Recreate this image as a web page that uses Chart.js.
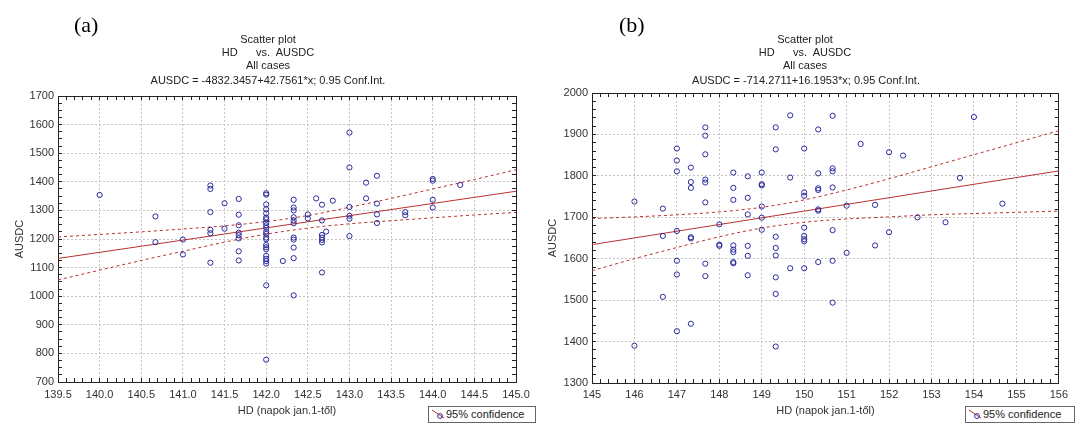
<!DOCTYPE html>
<html><head><meta charset="utf-8">
<script src="https://cdn.jsdelivr.net/npm/chart.js@4.4.1/dist/chart.umd.min.js"></script>
<style>
html,body{margin:0;padding:0;background:#fff;}
#wrap{position:relative;width:1077px;height:424px;overflow:hidden;font-family:"Liberation Sans",Arial,sans-serif;color:#222;}
canvas{position:absolute;top:0;}
.panel{position:absolute;font-family:"Liberation Serif","Times New Roman",serif;font-size:22px;line-height:24px;color:#000;}
.ttl{position:absolute;width:400px;text-align:center;font-size:11px;line-height:13px;white-space:pre;color:#222;}
.leg{position:absolute;box-sizing:border-box;height:17px;border:1px solid #666;background:#fff;font-size:11px;line-height:15px;color:#222;white-space:nowrap;}
.leg svg{position:absolute;left:2px;top:1px;}
.leg span{position:absolute;left:17px;top:0;}
</style></head>
<body>
<div id="wrap">
  <canvas id="ca" width="540" height="424" style="left:0;width:540px;height:424px"></canvas>
  <canvas id="cb" width="540" height="424" style="left:537px;width:540px;height:424px"></canvas>

  <div class="panel" style="left:74px;top:13px">(a)</div>
  <div class="ttl" style="left:68px;top:33px">Scatter plot</div>
  <div class="ttl" style="left:68px;top:46px">HD      vs.  AUSDC</div>
  <div class="ttl" style="left:68px;top:59px">All cases</div>
  <div class="ttl" style="left:68px;top:74px">AUSDC = -4832.3457+42.7561*x; 0.95 Conf.Int.</div>

  <div class="panel" style="left:619px;top:13px">(b)</div>
  <div class="ttl" style="left:605px;top:33px">Scatter plot</div>
  <div class="ttl" style="left:605px;top:46px">HD      vs.  AUSDC</div>
  <div class="ttl" style="left:605px;top:59px">All cases</div>
  <div class="ttl" style="left:606px;top:74px">AUSDC = -714.2711+16.1953*x; 0.95 Conf.Int.</div>

  <div class="leg" style="left:428px;top:406px;width:108px">
    <svg width="16" height="14"><line x1="1" y1="2" x2="13" y2="10" stroke="#b8312f" stroke-width="1"/><circle cx="9" cy="8" r="2.4" fill="none" stroke="#2a2a9c" stroke-width="1"/></svg>
    <span>95% confidence</span>
  </div>
  <div class="leg" style="left:965px;top:406px;width:110px">
    <svg width="16" height="14"><line x1="1" y1="2" x2="13" y2="10" stroke="#b8312f" stroke-width="1"/><circle cx="9" cy="8" r="2.4" fill="none" stroke="#2a2a9c" stroke-width="1"/></svg>
    <span>95% confidence</span>
  </div>
</div>
<script>
// ---------- Panel (a) data ----------
const aHD = [
  140.00,
  140.67,140.67,
  141.00,141.00,
  141.33,141.33,141.33,141.33,141.33,141.33,
  141.50,141.50,
  141.67,141.67,141.67,141.67,141.67,141.67,141.67,141.67,
  142.00,142.00,142.00,142.00,142.00,142.00,142.00,142.00,142.00,142.00,142.00,142.00,
  142.00,142.00,142.00,142.00,142.00,142.00,142.00,142.00,142.00,142.00,142.00,
  142.20,
  142.33,142.33,142.33,142.33,142.33,142.33,142.33,142.33,142.33,142.33,142.33,
  142.50,142.50,
  142.60,
  142.67,142.67,142.67,142.67,142.67,142.67,142.67,
  142.72,
  142.80,
  143.00,143.00,143.00,143.00,143.00,143.00,
  143.20,143.20,
  143.33,143.33,143.33,143.33,
  143.67,143.67,
  144.00,144.00,144.00,144.00,
  144.33
];
const aAUSDC = [
  1354,
  1279,1189,
  1198,1146,
  1387,1375,1294,1232,1220,1117,
  1325,1236,
  1340,1285,1248,1222,1213,1202,1157,1125,
  1360,1355,1321,1304,1290,1275,1269,1257,1248,1239,1226,1218,
  1205,1199,1179,1171,1164,1141,1131,1123,1114,1038,778,
  1123,
  1337,1310,1300,1276,1265,1255,1205,1198,1170,1133,1003,
  1286,1272,
  1342,
  1320,1265,1214,1205,1197,1188,1083,
  1226,
  1334,
  1572,1450,1312,1281,1271,1210,
  1397,1342,
  1421,1324,1286,1256,
  1294,1283,
  1410,1404,1337,1310,
  1389
];
const aFitX = [139.5, 145.0];
const aFitY = [1132, 1367];
const aBandX = [139.5,140,140.5,141,141.5,142,142.5,143,143.5,144,144.5,145];
const aUpper = [1207,1216,1225,1235,1246,1261,1282,1311,1342,1375,1408,1442];
const aLower = [1057,1091,1125,1157,1189,1217,1238,1253,1264,1274,1284,1293];

// ---------- Panel (b) data ----------
const bHD = [
  146.00,146.00,
  146.67,146.67,146.67,
  147.00,147.00,147.00,147.00,147.00,147.00,147.00,
  147.33,147.33,147.33,147.33,147.33,147.33,
  147.67,147.67,147.67,147.67,147.67,147.67,147.67,147.67,
  148.00,148.00,148.00,
  148.33,148.33,148.33,148.33,148.33,148.33,148.33,148.33,
  148.67,148.67,148.67,148.67,148.67,148.67,
  149.00,149.00,149.00,149.00,149.00,149.00,
  149.33,149.33,149.33,149.33,149.33,149.33,149.33,149.33,
  149.67,149.67,149.67,
  150.00,150.00,150.00,150.00,150.00,150.00,150.00,150.00,
  150.33,150.33,150.33,150.33,150.33,150.33,150.33,
  150.67,150.67,150.67,150.67,150.67,150.67,150.67,
  151.00,151.00,
  151.33,
  151.67,151.67,
  152.00,152.00,
  152.33,
  152.67,
  153.33,
  153.67,
  154.00,
  154.67
];
const bAUSDC = [
  1738,1390,
  1721,1655,1508,
  1866,1837,1811,1667,1595,1562,1425,
  1820,1785,1771,1652,1649,1443,
  1917,1897,1852,1791,1784,1736,1588,1558,
  1683,1634,1631,
  1808,1771,1742,1632,1622,1616,1592,1589,
  1799,1747,1707,1631,1607,1560,
  1808,1780,1777,1726,1699,1670,
  1917,1864,1653,1626,1608,1555,1515,1388,
  1946,1796,1577,
  1866,1760,1752,1675,1655,1647,1642,1577,
  1912,1806,1770,1766,1719,1716,1592,
  1945,1818,1811,1772,1669,1595,1494,
  1728,1614,
  1877,
  1730,1632,
  1857,1664,
  1849,
  1700,
  1688,
  1795,
  1942,
  1733
];
const bFitX = [145, 156];
const bFitY = [1634, 1812];
const bBandX = [145,146,147,148,149,150,151,152,153,154,155,156];
const bUpper = [1697,1701,1706,1713,1724,1742,1766,1793,1822,1851,1880,1909];
const bLower = [1571,1600,1627,1653,1674,1688,1696,1701,1706,1709,1712,1715];

const xTitle = 'HD (napok jan.1-től)';
const yTitle = 'AUSDC';
const legendText = '95% confidence';

// ---------- helpers ----------
const zip = (xs, ys) => xs.map((x, i) => ({x: x, y: ys[i]}));
const FONT = {family: '"Liberation Sans", Arial, sans-serif', size: 11};
const GRID = '#c4c4c4';
const FRAME = '#222';
const PT = '#2a2a9c';
const LN = '#b8312f';

function build(id, P) {
  const maj = (v, min, step) => { const r = (v - min) / step; return Math.abs(r - Math.round(r)) < 1e-6; };
  const mx = v => maj(v, P.xMin, P.xMajor);
  const my = v => maj(v, P.yMin, P.yMajor);
  new Chart(document.getElementById(id), {
    type: 'scatter',
    data: {datasets: [
      {label: 'AUSDC', data: zip(P.hd, P.au), pointStyle: 'circle', pointRadius: 2.6, borderWidth: 1,
       borderColor: PT, backgroundColor: 'rgba(0,0,0,0)'},
      {label: 'fit', data: zip(P.fx, P.fy), showLine: true, borderColor: LN, borderWidth: 1, pointRadius: 0},
      {label: legendText, data: zip(P.bx, P.up), showLine: true, borderColor: LN, borderWidth: 1,
       borderDash: [3, 3], pointRadius: 0, cubicInterpolationMode: 'monotone'},
      {label: legendText, data: zip(P.bx, P.lo), showLine: true, borderColor: LN, borderWidth: 1,
       borderDash: [3, 3], pointRadius: 0, cubicInterpolationMode: 'monotone'}
    ]},
    options: {
      responsive: false, animation: false, events: [],
      layout: {padding: 0},
      plugins: {legend: {display: false}, tooltip: {enabled: false}, title: {display: false}},
      scales: {
        x: {type: 'linear', position: 'bottom', min: P.xMin, max: P.xMax,
            ticks: {stepSize: P.xMinor, autoSkip: false, maxRotation: 0, padding: P.xPad, color: '#333', font: FONT,
                    callback: v => mx(v) ? v.toFixed(P.xDec) : ''},
            grid: {color: c => (c.tick && mx(c.tick.value)) ? GRID : 'rgba(0,0,0,0)', tickColor: FRAME, tickLength: -4, lineWidth: 1},
            border: {display: true, color: FRAME, width: 1, dash: [2, 2]},
            title: {display: true, text: xTitle, color: '#333', font: FONT, padding: {top: 0, bottom: 6}},
            afterFit: s => { s.height = P.bottom; }},
        y: {type: 'linear', position: 'left', min: P.yMin, max: P.yMax,
            ticks: {stepSize: P.yMinor, autoSkip: false, padding: 8, color: '#333', font: FONT,
                    callback: v => my(v) ? String(Math.round(v)) : ''},
            grid: {color: c => (c.tick && my(c.tick.value)) ? GRID : 'rgba(0,0,0,0)', tickColor: FRAME, tickLength: -4, lineWidth: 1},
            border: {display: true, color: FRAME, width: 1, dash: [2, 2]},
            title: {display: true, text: yTitle, color: '#333', font: FONT, padding: {top: P.yTitlePad, bottom: 0}},
            afterFit: s => { s.width = P.left; }},
        x2: {type: 'linear', position: 'top', min: P.xMin, max: P.xMax,
             ticks: {display: false, stepSize: P.xMinor, autoSkip: false},
             grid: {drawOnChartArea: false, tickColor: FRAME, tickLength: -4},
             border: {display: true, color: FRAME, width: 1},
             afterFit: s => { s.height = P.top; }},
        y2: {type: 'linear', position: 'right', min: P.yMin, max: P.yMax,
             ticks: {display: false, stepSize: P.yMinor, autoSkip: false},
             grid: {drawOnChartArea: false, tickColor: FRAME, tickLength: -4},
             border: {display: true, color: FRAME, width: 1},
             afterFit: s => { s.width = P.right; }}
      }
    }
  });
}

build('ca', {hd: aHD, au: aAUSDC, fx: aFitX, fy: aFitY, bx: aBandX, up: aUpper, lo: aLower,
  xMin: 139.5, xMax: 145, xMinor: 0.1, xMajor: 0.5, xDec: 1,
  yMin: 700, yMax: 1700, yMinor: 25, yMajor: 100,
  left: 58, right: 24, top: 96, bottom: 42, xPad: 10, yTitlePad: 13});

build('cb', {hd: bHD, au: bAUSDC, fx: bFitX, fy: bFitY, bx: bBandX, up: bUpper, lo: bLower,
  xMin: 145, xMax: 156, xMinor: 0.2, xMajor: 1, xDec: 0,
  yMin: 1300, yMax: 2000, yMinor: 20, yMajor: 100,
  left: 55, right: 17, top: 93, bottom: 41, xPad: 9, yTitlePad: 9});
</script>
</body></html>
